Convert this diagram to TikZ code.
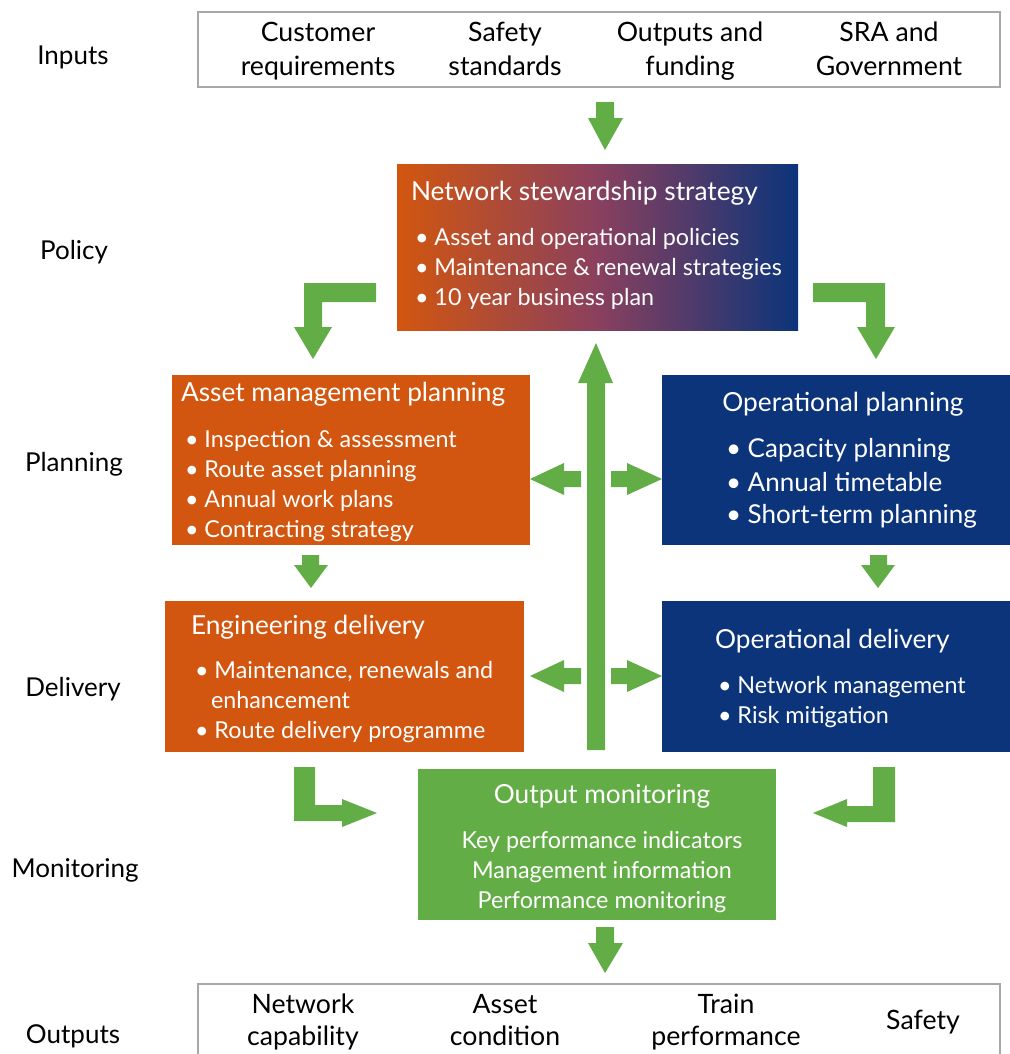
\documentclass[tikz,border=0pt]{standalone}
\usepackage{fontspec}
\setmainfont{Lato}
\definecolor{nrOrange}{HTML}{D2560F}
\definecolor{nrBlue}{HTML}{0B347A}
\definecolor{nrGreen}{HTML}{63AD46}
\definecolor{nrPurple}{HTML}{8A405E}
\definecolor{nrGray}{HTML}{A8A8A8}
\begin{document}
\begin{tikzpicture}[x=0.75pt,y=-0.75pt,
  every node/.style={inner sep=0pt,outer sep=0pt},
  lab/.style={font=\fontsize{19.5}{22}\selectfont,text height=1.2em,text depth=0pt},
  io/.style={font=\fontsize{20}{25.5}\selectfont,align=center,text height=1.2em,text depth=0pt},
  frame/.style={draw=nrGray,line width=1.5pt,anchor=north west},
  blk/.style={anchor=north west},
  hdr/.style={font=\fontsize{19.7}{22}\selectfont,text=white,text height=1.2em,text depth=0pt},
  bul/.style={font=\fontsize{17.5}{20}\selectfont,text=white,text height=1.15em,text depth=0pt,anchor=west},
  bigbul/.style={font=\fontsize{19.5}{22}\selectfont,text=white,text height=1.15em,text depth=0pt,anchor=west},
  arr/.style={fill=nrGreen}]
\useasboundingbox (0,0) rectangle (1010,1054);
\clip (0,0) rectangle (1010,1054);

% row labels
\node[lab] (lInputs) at (73,56) {Inputs};
\node[lab] (lPolicy) at (74,251) {Policy};
\node[lab] (lPlanning) at (74,463) {Planning};
\node[lab] (lDelivery) at (73,688) {Delivery};
\node[lab] (lMonitoring) at (75,869) {Monitoring};
\node[lab] (lOutputs) at (73,1035) {Outputs};

% inputs box (multi-line nodes are placed by their last line)
\node[frame,minimum width=802*0.75pt,minimum height=75*0.75pt] (inbox) at (198,12) {};
\node[io] (in1) at (318,67) {Customer\\requirements};
\node[io] (in2) at (505,67) {Safety\\standards};
\node[io] (in3) at (690,67) {Outputs and\\funding};
\node[io] (in4) at (889,67) {SRA and\\Government};

% outputs box
\node[frame,minimum width=802*0.75pt,minimum height=90*0.75pt] (outbox) at (198,984) {};
\node[io,font=\fontsize{20}{23.3}\selectfont] (out1) at (303,1037) {Network\\capability};
\node[io,font=\fontsize{20}{23.3}\selectfont] (out2) at (505,1037) {Asset\\condition};
\node[io,font=\fontsize{20}{23.3}\selectfont] (out3) at (726,1037) {Train\\performance};
\node[io] (out4) at (923,1021) {Safety};

% network stewardship strategy
\node[blk,minimum width=401*0.75pt,minimum height=166*0.75pt,left color=nrOrange,right color=nrBlue,middle color=nrPurple] (nss) at (397,164) {};
\node[hdr,anchor=west] (nssT) at (411,192) {Network stewardship strategy};
\node[bul] (nss1) at (415,238) {• Asset and operational policies};
\node[bul] (nss2) at (415,268) {• Maintenance \& renewal strategies};
\node[bul] (nss3) at (415,298) {• 10 year business plan};

% asset management planning
\node[blk,fill=nrOrange,minimum width=358*0.75pt,minimum height=170*0.75pt] (amp) at (172,375) {};
\node[hdr,anchor=west] (ampT) at (181,393) {Asset management planning};
\node[bul] (amp1) at (185,440) {• Inspection \& assessment};
\node[bul] (amp2) at (185,470) {• Route asset planning};
\node[bul] (amp3) at (185,500) {• Annual work plans};
\node[bul] (amp4) at (185,530) {• Contracting strategy};

% operational planning
\node[blk,fill=nrBlue,minimum width=348*0.75pt,minimum height=170*0.75pt] (op) at (662,375) {};
\node[hdr] (opT) at (843,403) {Operational planning};
\node[bigbul] (op1) at (726,450) {• Capacity planning};
\node[bigbul] (op2) at (726,484) {• Annual timetable};
\node[bigbul] (op3) at (726,516) {• Short-term planning};

% engineering delivery
\node[blk,fill=nrOrange,minimum width=359*0.75pt,minimum height=151*0.75pt] (ed) at (165,601) {};
\node[hdr,anchor=west] (edT) at (191,626) {Engineering delivery};
\node[bul] (ed1) at (195,671) {• Maintenance, renewals and};
\node[bul] (ed1b) at (211,701) {enhancement};
\node[bul] (ed2) at (195,731) {• Route delivery programme};

% operational delivery
\node[blk,fill=nrBlue,minimum width=348*0.75pt,minimum height=151*0.75pt] (od) at (662,601) {};
\node[hdr,anchor=west] (odT) at (715,640) {Operational delivery};
\node[bul] (od1) at (718,686) {• Network management};
\node[bul] (od2) at (718,716) {• Risk mitigation};

% output monitoring
\node[blk,fill=nrGreen,minimum width=358*0.75pt,minimum height=151*0.75pt] (om) at (418,769) {};
\node[hdr] (omT) at (602,795) {Output monitoring};
\node[bul,anchor=center] (om1) at (602,841) {Key performance indicators};
\node[bul,anchor=center] (om2) at (602,871) {Management information};
\node[bul,anchor=center] (om3) at (602,901) {Performance monitoring};

% block arrows
\fill[arr] (596,102) -- (614,102) -- (614,118) -- (623,118) -- (605,150) -- (588,118) -- (596,118) -- cycle;
\fill[arr] (376,283) -- (376,302) -- (322,302) -- (322,327) -- (332,327) -- (313,359) -- (294,327) -- (304,327) -- (304,283) -- cycle;
\fill[arr] (813,283) -- (885,283) -- (885,327) -- (895,327) -- (876,359) -- (857,327) -- (866,327) -- (866,302) -- (813,302) -- cycle;
\fill[arr] (587,750) -- (587,383) -- (578,383) -- (596,343) -- (613,383) -- (605,383) -- (605,750) -- cycle;
\foreach \yy in {479,676}{
  \fill[arr] (530,\yy) -- (564,\yy-16) -- (564,\yy-8) -- (581,\yy-8) -- (581,\yy+8) -- (564,\yy+8) -- (564,\yy+16) -- cycle;
  \fill[arr] (662,\yy) -- (627,\yy-16) -- (627,\yy-8) -- (611,\yy-8) -- (611,\yy+8) -- (627,\yy+8) -- (627,\yy+16) -- cycle;
}
\fill[arr] (302,555) -- (319,555) -- (319,565) -- (328,565) -- (311,588) -- (294,565) -- (302,565) -- cycle;
\fill[arr] (870,555) -- (887,555) -- (887,565) -- (895,565) -- (878,588) -- (861,565) -- (870,565) -- cycle;
\fill[arr] (294,767) -- (315,767) -- (315,805) -- (342,805) -- (342,799) -- (377,813) -- (342,827) -- (342,821) -- (294,821) -- cycle;
\fill[arr] (873,767) -- (895,767) -- (895,822) -- (847,822) -- (847,827) -- (813,813) -- (847,799) -- (847,806) -- (873,806) -- cycle;
\fill[arr] (596,927) -- (614,927) -- (614,943) -- (623,943) -- (605,973) -- (588,943) -- (596,943) -- cycle;
\end{tikzpicture}
\end{document}
